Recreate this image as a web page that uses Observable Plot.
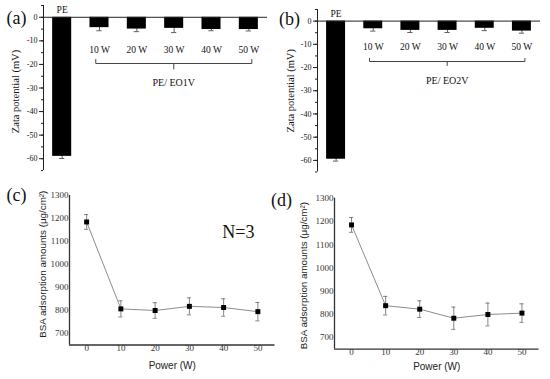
<!DOCTYPE html>
<html>
<head>
<meta charset="utf-8">
<script src="https://cdn.jsdelivr.net/npm/d3@7"></script>
<script src="https://cdn.jsdelivr.net/npm/@observablehq/plot@0.6"></script>
<style>
  html, body { margin: 0; padding: 0; background: #fff; }
  #wrap { position: relative; width: 550px; height: 379px; background: #fff; overflow: hidden; }
  #wrap > svg { position: absolute; }
</style>
</head>
<body>
<div id="wrap"></div>
<script>
// ---------- data ----------
const categories = ["PE", "10 W", "20 W", "30 W", "40 W", "50 W"];
const zetaA = [-59, -4.4, -5.0, -4.7, -5.2, -5.2];
const zetaAErr = [0.9, 1.3, 1.1, 1.8, 0.5, 0.6];
const zetaB = [-59.5, -3.3, -4.0, -4.0, -3.1, -4.3];
const zetaBErr = [0.8, 1.0, 0.9, 0.9, 1.0, 0.9];
const zetaMajorTicks = [0, -10, -20, -30, -40, -50, -60];
const zetaMinorTicks = [5, 0, -5, -10, -15, -20, -25, -30, -35, -40, -45, -50, -55, -60, -65];

const powers = [0, 10, 20, 30, 40, 50];
const bsaC = [1185, 807, 800, 818, 813, 795];
const bsaCErr = [32, 35, 34, 37, 38, 40];
const bsaD = [1185, 837, 822, 783, 799, 805];
const bsaDErr = [32, 40, 36, 48, 49, 40];
const bsaTicks = [700, 800, 900, 1000, 1100, 1200, 1300];

const SERIF = "'Liberation Serif', 'Times New Roman', serif";
const SANS = "'Liberation Sans', Arial, sans-serif";
const wrap = document.getElementById("wrap");

function place(svg, left, top) {
  svg.style.left = left + "px";
  svg.style.top = top + "px";
  wrap.appendChild(svg);
}

// ---------- zeta potential bar panels ----------
function zetaPanel(o) {
  const rows = categories.map((c, i) => ({i, cat: c, v: o.values[i], e: o.errs[i]}));
  const xDom = [-0.5, categories.length - 0.5];
  const yDom = [-65, 5];
  const hw = 0.255, cap = 0.07;
  const bx1 = 0.9, bx2 = 5.08, bmid = (bx1 + bx2) / 2;
  const bracket = [
    {x: bx1, y: o.bracketY + o.hook}, {x: bx1, y: o.bracketY},
    {x: bx2, y: o.bracketY}, {x: bx2, y: o.bracketY + o.hook}
  ];
  return Plot.plot({
    width: 275, height: 185,
    marginLeft: o.ml, marginRight: o.mr, marginTop: o.mt, marginBottom: o.mb,
    style: {fontFamily: SERIF, fontSize: "8px", overflow: "visible", background: "transparent", color: "#111"},
    x: {domain: xDom, axis: null},
    y: {domain: yDom, axis: null},
    marks: [
      Plot.ruleX(rows, {x: "i", y1: d => d.v - d.e, y2: d => d.v + d.e, stroke: "#333", strokeWidth: 0.8}),
      Plot.ruleY(rows, {y: d => d.v - d.e, x1: d => d.i - cap, x2: d => d.i + cap, stroke: "#333", strokeWidth: 0.8}),
      Plot.rect(rows, {x1: d => d.i - hw, x2: d => d.i + hw, y1: 0, y2: "v", fill: "#000"}),
      Plot.ruleY([0], {stroke: "#222", strokeWidth: 1}),
      Plot.ruleX([xDom[0]], {stroke: "#222", strokeWidth: 1}),
      Plot.axisY({ticks: zetaMinorTicks, tickSize: 2, tickFormat: () => "", label: null, stroke: "#222"}),
      Plot.axisY({ticks: zetaMajorTicks, tickSize: 4, tickPadding: 2, tickFormat: d => String(d), label: null, fontSize: 8, stroke: "#222"}),
      Plot.text(rows.slice(0, 1), {x: "i", y: 0, dy: -7, text: "cat", fontSize: 9.5}),
      Plot.text(rows.slice(1), {x: "i", y: o.catY, text: "cat", fontSize: 9.5}),
      Plot.line(bracket, {x: "x", y: "y", stroke: "#444", strokeWidth: 1}),
      Plot.ruleX([bmid], {y1: o.bracketY, y2: o.bracketY - o.hook * 1.6, stroke: "#444", strokeWidth: 1}),
      Plot.text([o.group], {x: bmid, y: o.groupY, text: d => d, fontSize: 10}),
      Plot.text(["Zata potential (mV)"], {frameAnchor: "left", textAnchor: "middle", lineAnchor: "middle", dx: o.ylabDx, dy: o.ylabDy, rotate: -90, text: d => d, fontSize: 10.5}),
      Plot.text([o.tag], {frameAnchor: "top-left", textAnchor: "middle", lineAnchor: "middle", dx: o.tagDx, dy: o.tagDy, text: d => d, fontSize: 18})
    ]
  });
}

place(zetaPanel({
  values: zetaA, errs: zetaAErr, group: "PE/ EO1V", tag: "(a)",
  ml: 43, mr: 8, mt: 5, mb: 15,
  catY: -14, bracketY: -19.6, hook: 1.7, groupY: -27.7,
  ylabDx: -28, ylabDy: 3.5, tagDx: -27, tagDy: 12.5
}), 0, 0);

place(zetaPanel({
  values: zetaB, errs: zetaBErr, group: "PE/ EO2V", tag: "(b)",
  ml: 42, mr: 10, mt: 9, mb: 13.5,
  catY: -11.3, bracketY: -17.4, hook: 1.3, groupY: -25.7,
  ylabDx: -27, ylabDy: 0, tagDx: -28, tagDy: 9.5
}), 275, 0);

// ---------- BSA adsorption line panels ----------
function bsaPanel(o) {
  const rows = powers.map((p, i) => ({p, v: o.values[i], e: o.errs[i]}));
  const xDom = [-5, 55];
  const yDom = [650, 1300];
  const cap = 0.6;
  const marks = [
    Plot.ruleX([xDom[0]], {stroke: "#333", strokeWidth: 1.3}),
    Plot.ruleY([yDom[0]], {stroke: "#333", strokeWidth: 1.3}),
    Plot.axisY({ticks: bsaTicks, tickSize: 0, tickPadding: 1, tickFormat: d => String(d), label: null, fontSize: 9, fill: "#333"}),
    Plot.axisX({ticks: powers, tickSize: 0, tickPadding: 0, dy: 0, tickFormat: d => String(d), label: null, fontSize: 9, fill: "#333"}),
    Plot.line(rows, {x: "p", y: "v", stroke: "#8c8c8c", strokeWidth: 1}),
    Plot.ruleX(rows, {x: "p", y1: d => d.v - d.e, y2: d => d.v + d.e, stroke: "#666", strokeWidth: 0.8}),
    Plot.ruleY(rows, {y: d => d.v - d.e, x1: d => d.p - cap, x2: d => d.p + cap, stroke: "#666", strokeWidth: 0.8}),
    Plot.ruleY(rows, {y: d => d.v + d.e, x1: d => d.p - cap, x2: d => d.p + cap, stroke: "#666", strokeWidth: 0.8}),
    Plot.dot(rows, {x: "p", y: "v", symbol: "square", r: 2.8, fill: "#000", stroke: "none"}),
    Plot.text(["Power (W)"], {frameAnchor: "bottom", textAnchor: "middle", lineAnchor: "middle", dy: o.xlabDy, text: d => d, fontFamily: SANS, fontSize: 10, fill: "#222"}),
    Plot.text(["BSA adsorption amounts (\u03bcg/cm\u00b2)"], {frameAnchor: "left", textAnchor: "middle", lineAnchor: "middle", dx: o.ylabDx, dy: o.ylabDy, rotate: -90, text: d => d, fontFamily: SANS, fontSize: 9.8, fill: "#222"}),
    Plot.text([o.tag], {frameAnchor: "top-left", textAnchor: "middle", lineAnchor: "middle", dx: o.tagDx, dy: o.tagDy, text: d => d, fontSize: 18, fontFamily: SERIF})
  ];
  if (o.note) marks.push(Plot.text([o.note], {x: 44.3, y: 1140, text: d => d, fontSize: 18, fontFamily: SERIF, fill: "#111"}));
  return Plot.plot({
    width: 275, height: 194,
    marginLeft: o.ml, marginRight: o.mr, marginTop: o.mt, marginBottom: o.mb,
    style: {fontFamily: SERIF, fontSize: "9px", overflow: "visible", background: "transparent", color: "#111"},
    x: {domain: xDom, axis: null},
    y: {domain: yDom, axis: null},
    marks
  });
}

place(bsaPanel({
  values: bsaC, errs: bsaCErr, tag: "(c)", note: "N=3",
  ml: 69, mr: 0.5, mt: 10, mb: 34.5,
  xlabDy: 20.5, ylabDx: -27, ylabDy: -6, tagDx: -53, tagDy: 0
}), 0, 185);

place(bsaPanel({
  values: bsaD, errs: bsaDErr, tag: "(d)",
  ml: 59, mr: 11.5, mt: 12.7, mb: 30.4,
  xlabDy: 18, ylabDx: -30.7, ylabDy: 2, tagDx: -53, tagDy: 2.3
}), 275, 185);
</script>
</body>
</html>
